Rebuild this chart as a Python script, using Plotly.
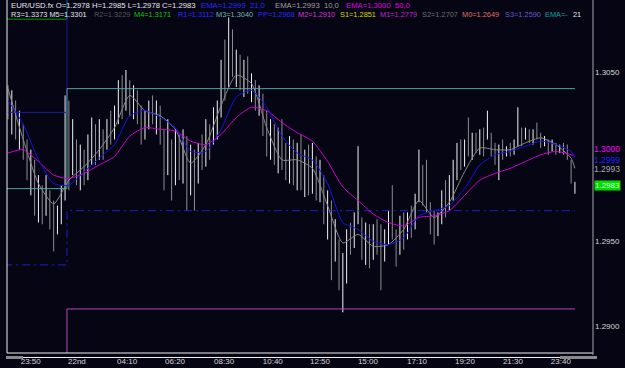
import plotly.graph_objects as go

# ---------------- price bars (values in points, 1 point = 0.0001) ----------------
highs_pts = [13042,13039,13033,13027,13019,13010,13004,12998,12989,12983,
             12989,12980,12974,12971,12983,13036,13033,13022,13010,13007,
             13004,13013,13023,13019,13022,13016,13022,13027,13030,13045,
             13048,13051,13045,13042,13039,13030,13027,13033,13036,13033,
             13030,13016,13022,13010,13016,13013,13016,13012,13007,13004,
             13008,13013,13022,13019,13029,13033,13057,13069,13082,13075,
             13063,13060,13057,13059,13049,13045,13042,13037,13027,13022,
             13019,13017,13022,13008,13012,13010,13008,13013,13004,13007,
             13008,13000,12998,12989,12980,12974,12963,12951,12943,12957,
             12961,12967,13006,12964,12961,12960,12960,12963,12960,12957,
             12968,12983,12957,12965,12967,12967,12971,12978,13004,12995,
             12998,12973,12968,12967,12980,12986,12989,12998,13008,13010,
             13010,13023,13014,13014,13016,13017,13027,13014,13008,13007,
             13010,13006,13008,13010,13029,13017,13017,13016,13016,13020,
             13014,13012,13010,13010,13008,13007,13008,13007,12998,12985]
lows_pts = [13022,13013,13010,13004,12998,12986,12977,12965,12961,12960,
            12965,12957,12944,12954,12960,12974,12980,12989,12983,12980,
            12983,12986,12995,12995,12998,12998,13004,13007,13010,13019,
            13022,13027,13024,13022,13019,13007,13010,13016,13019,13013,
            13007,12980,12989,12974,12983,12986,12984,12968,12977,12968,
            12984,12992,12994,12998,13007,13010,13023,13033,13041,13047,
            13041,13039,13035,13037,13032,13027,13024,13012,13000,12998,
            12995,12990,12992,12986,12984,12983,12980,12980,12976,12977,
            12978,12974,12973,12960,12951,12927,12938,12921,12908,12925,
            12942,12946,12960,12939,12936,12934,12939,12942,12921,12938,
            12948,12951,12935,12942,12945,12951,12952,12957,12973,12971,
            12967,12954,12948,12953,12960,12964,12968,12974,12986,12992,
            12994,13000,12998,13002,13001,13000,13010,13000,12995,12986,
            12998,13000,13000,13001,13006,13006,13010,13008,13007,13010,
            13005,13006,13001,13003,13001,13002,13001,12998,12984,12978]
opens_pts = [13038,13026,13030,13014,13018,13000,12990,12996,12968,12982,
             12966,12980,12960,12956,12966,12976,13030,12990,13008,12988,
             13002,12986,13010,13018,12998,13015,13005,13018,13010,13026,
             13042,13028,13044,13028,13038,13022,13010,13024,13030,13020,
             13030,13010,12990,13008,12985,13012,12990,13012,12978,13002,
             12986,13005,12995,13018,13008,13026,13028,13052,13042,13072,
             13050,13058,13042,13055,13040,13044,13030,13036,13014,13004,
             13018,12998,13014,12995,12990,13008,12986,13004,12982,13000,
             12980,12998,12978,12986,12964,12972,12940,12948,12926,12938,
             12952,12948,12962,12962,12942,12958,12941,12956,12945,12940,
             12954,12962,12954,12944,12960,12953,12964,12958,12975,12993,
             12975,12970,12956,12954,12964,12976,12970,12986,12994,13005,
             12995,13008,13002,13012,13004,13014,13011,13012,13002,12998,
             13004,13000,13005,13002,13008,13012,13010,13015,13010,13014,
             13012,13006,13010,13003,13008,13003,13006,13002,12997,12978]
closes_pts = [13026,13030,13014,13020,13000,12990,12998,12968,12985,12962,
              12986,12960,12948,12968,12980,13030,12990,13018,12988,13004,
              12986,13010,13020,12998,13018,13000,13018,13010,13028,13042,
              13024,13048,13028,13040,13022,13010,13025,13030,13020,13030,
              13010,12984,13018,12978,13012,12990,13012,12972,13004,12974,
              13005,12995,13018,13002,13026,13030,13052,13040,13075,13050,
              13060,13042,13055,13040,13046,13030,13040,13014,13004,13020,
              12998,13014,12995,12990,13008,12986,13004,12982,13000,12980,
              13004,12978,12994,12964,12976,12932,12958,12926,12938,12952,
              12945,12962,12964,12942,12958,12938,12956,12945,12930,12954,
              12962,12954,12938,12960,12948,12964,12955,12975,13000,12975,
              12970,12956,12952,12964,12976,12970,12986,12994,13005,12995,
              13008,13002,13012,13004,13014,13004,13024,13002,12998,13004,
              13000,13005,13002,13008,13012,13008,13015,13010,13014,13012,
              13006,13010,13003,13008,13003,13006,13002,13000,12986,12983]

# ---------------- moving averages (every 4th bar) ----------------
ema_idx = list(range(0, 149, 4)) + [149]
ema21_pts = [13033,13019,12998,12984,12983,12991,12999,13007,13024,13027,
             13023,13017,13003,13003,13016,13035,13039,13029,13012,13002,
             12998,12984,12961,12957,12950,12948,12952,12965,12968,12971,
             12981,12995,13001,13003,13006,13009,13007,13003,12999]
ema10_pts = [13040,13010,12984,12972,12986,12994,13004,13017,13036,13027,
             13024,13016,12996,13007,13030,13048,13043,13017,12998,12998,
             12993,12971,12949,12954,12947,12948,12957,12974,12964,12973,
             12991,13005,13004,13004,13008,13011,13007,12999,12993]
ema50_pts = [13002,13004,12997,12989,12987,12990,12995,13000,13012,13017,
             13016,13015,13009,13007,13013,13023,13029,13027,13020,13014,
             13009,12997,12982,12974,12966,12961,12959,12964,12965,12968,
             12977,12986,12990,12993,12997,13001,13003,13001,13000]

# ---------------- pivot levels (previous day -> current day) ----------------
day_break = 15.5
pivot_names = ["M4", "R1", "M3", "PP", "M2"]
pivot_prev = [1.3081, 1.3026, 1.2981, 1.2936, 1.2850]
pivot_new = [1.3171, 1.3112, 1.3040, 1.2968, 1.2910]
pivot_colors = ["#00a000", "#1c1c9a", "#56a3a3", "#2020c8", "#b848b8"]
pivot_dash = ["solid", "solid", "solid", "8px,4px,2px,4px", "solid"]

# ---------------- axis labels ----------------
time_labels = ["23:50", "22nd", "04:10", "06:20", "08:30", "10:40",
               "12:50", "15:00", "17:10", "19:20", "21:30", "23:40"]
time_ticks = [5.97, 18.1, 31.3, 43.9, 56.8, 69.6, 82.0, 94.6, 107.5, 120.1, 132.7, 145.3]
price_ticks = [1.2900, 1.2950, 1.3050]
price_text = ["1.2900", "1.2950", "1.3050"]

# ---------------- header texts ----------------
row1_texts = ["EUR/USD.fx O=1.2978 H=1.2985 L=1.2978 C=1.2983",
              "EMA=1.2999  21,0", "EMA=1.2993  10,0", "EMA=1.3000  50,0"]
row1_colors = ["#e8e8e8", "#2a2aff", "#a0a0a0", "#e000e0"]
row1_x = [9, 199, 273, 344]
row2_texts = ["R3=1.3373 M5=1.3301", "R2=1.3229", "M4=1.3171", "R1=1.3112",
              "M3=1.3040", "PP=1.2968", "M2=1.2910", "S1=1.2851", "M1=1.2779",
              "S2=1.2707", "M0=1.2649", "S3=1.2590", "EMA=-", "21"]
row2_colors = ["#e8e8e8", "#555555", "#00d000", "#2a2aff", "#70b8b8", "#2a2aff",
               "#dd33dd", "#d8d800", "#cc22cc", "#707070", "#e07060", "#6a5acd",
               "#00a8a8", "#e8e8e8"]
row2_x = [9, 92, 132, 176, 214, 256, 296, 338, 378, 420, 460, 503, 543, 571]

# current value tags on the price scale
tag_values = [1.3000, 1.2999, 1.2993]
tag_colors = ["#ff00ff", "#2020ff", "#a8a8a8"]
tag_shift = [7, -1.5, -1]
last_close = 1.2983

BG = "#050514"
FONT = "Liberation Sans"

highs = [v / 10000 for v in highs_pts]
lows = [v / 10000 for v in lows_pts]
opens = [v / 10000 for v in opens_pts]
closes = [v / 10000 for v in closes_pts]
bar_idx = list(range(len(highs)))

fig = go.Figure()
fig.add_trace(go.Ohlc(
    x=bar_idx, open=opens, high=highs, low=lows, close=closes,
    increasing=dict(line=dict(color="#f2f2f2", width=1)),
    decreasing=dict(line=dict(color="#8e8e8e", width=1)),
    tickwidth=0, hoverinfo="skip", showlegend=False))

for name, p0, p1, col, dsh in zip(pivot_names, pivot_prev, pivot_new, pivot_colors, pivot_dash):
    fig.add_trace(go.Scatter(
        x=[-1, day_break, day_break, bar_idx[-1]], y=[p0, p0, p1, p1],
        mode="lines", line=dict(color=col, width=1, dash=dsh),
        hoverinfo="skip", showlegend=False, name=name))

for vals, col in [(ema10_pts, "#8a8a8a"), (ema50_pts, "#d400d4"), (ema21_pts, "#1414e6")]:
    fig.add_trace(go.Scatter(
        x=ema_idx, y=[v / 10000 for v in vals], mode="lines",
        line=dict(color=col, width=1, shape="spline", smoothing=0.6),
        hoverinfo="skip", showlegend=False))

ann = []
for t, c, px in zip(row1_texts, row1_colors, row1_x):
    ann.append(dict(text=t, x=0, xref="paper", xshift=px - 7, xanchor="left",
                    y=1, yref="paper", yshift=-5, yanchor="middle",
                    showarrow=False, font=dict(family=FONT, size=7.7, color=c)))
for t, c, px in zip(row2_texts, row2_colors, row2_x):
    ann.append(dict(text=t, x=0, xref="paper", xshift=px - 7, xanchor="left",
                    y=1, yref="paper", yshift=-14.5, yanchor="middle",
                    showarrow=False, font=dict(family=FONT, size=7.4, color=c)))
for v, c, s in zip(tag_values, tag_colors, tag_shift):
    ann.append(dict(text=f"{v:.4f}", x=1, xref="paper", xanchor="left", xshift=0,
                    y=v, yref="y", yshift=s, yanchor="middle", showarrow=False,
                    borderpad=0,
                    font=dict(family=FONT, size=8.5, color=c)))
ann.append(dict(text=f"{last_close:.4f}", x=1, xref="paper", xanchor="left", xshift=1,
                y=last_close, yref="y", yanchor="middle", showarrow=False,
                bgcolor="#00dc00", borderpad=0,
                font=dict(family=FONT, size=8, color="#d8ffd8")))

def px(xp):
    return (xp - 7) / 586.0

def py(yp):
    return (353 - yp) / 353.0

shapes = [
    dict(type="line", xref="paper", yref="paper", x0=px(7), x1=px(7), y0=py(353), y1=py(0),
         line=dict(color="#f0f0f0", width=1)),
    dict(type="line", xref="paper", yref="paper", x0=px(7), x1=px(593), y0=py(353), y1=py(353),
         line=dict(color="#f0f0f0", width=1)),
    dict(type="line", xref="paper", yref="paper", x0=px(593), x1=px(593), y0=py(355), y1=py(0),
         line=dict(color="#a8a8a8", width=1)),
    dict(type="line", xref="paper", yref="paper", x0=px(23), x1=px(560), y0=py(357.5), y1=py(357.5),
         line=dict(color="#f0f0f0", width=1)),
    dict(type="line", xref="paper", yref="paper", x0=px(6), x1=px(23), y0=py(357.5), y1=py(357.5),
         line=dict(color="#8a8a8a", width=3)),
    dict(type="line", xref="paper", yref="paper", x0=px(560), x1=px(597), y0=py(357.5), y1=py(357.5),
         line=dict(color="#8a8a8a", width=3)),
]

fig.update_layout(
    width=625, height=368,
    margin=dict(l=7, r=32, t=0, b=15, pad=0),
    paper_bgcolor=BG, plot_bgcolor=BG,
    showlegend=False,
    annotations=ann, shapes=shapes,
    xaxis=dict(range=[-0.263, 153.75], showgrid=False, zeroline=False,
               tickmode="array", tickvals=time_ticks, ticktext=time_labels,
               ticks="", ticklabelstandoff=2,
               tickfont=dict(family=FONT, size=8, color="#d8d8d8"),
               rangeslider=dict(visible=False), fixedrange=True),
    yaxis=dict(range=[1.288403, 1.309230], side="right", showgrid=False, zeroline=False,
               tickmode="array", tickvals=price_ticks, ticktext=price_text,
               ticks="", ticklabelstandoff=1,
               tickfont=dict(family=FONT, size=8, color="#d8d8d8"), fixedrange=True),
)

fig.write_html("out.html", config={"displayModeBar": False})
